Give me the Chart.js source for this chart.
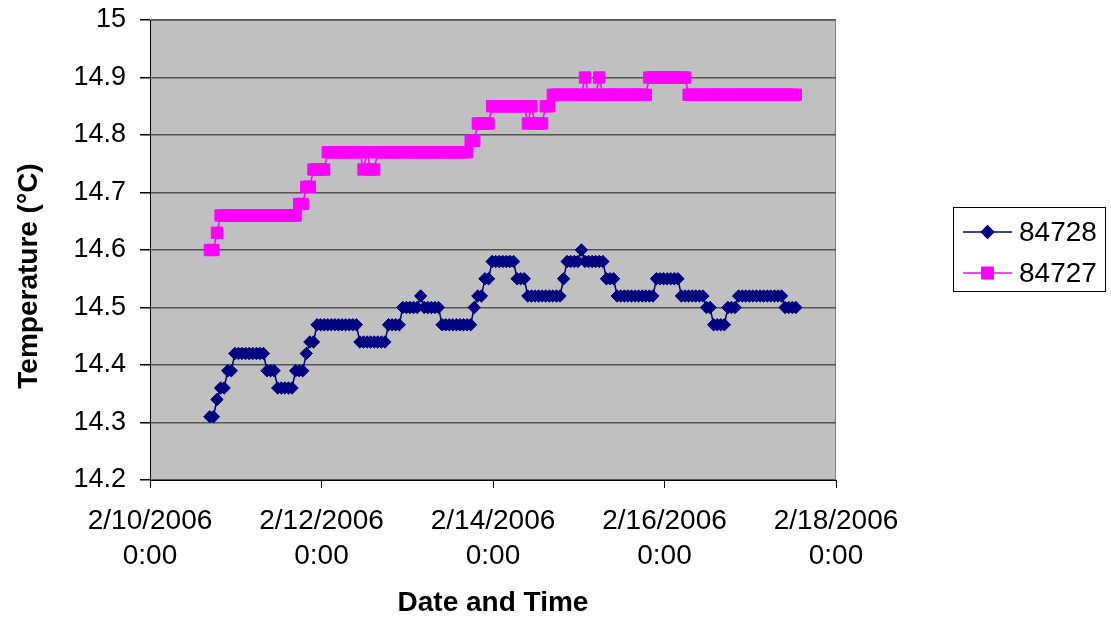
<!DOCTYPE html>
<html>
<head>
<meta charset="utf-8">
<title>Temperature 84728 / 84727</title>
<script src="https://cdn.jsdelivr.net/npm/chart.js@4.4.1/dist/chart.umd.min.js"></script>
<style>
  html, body { margin: 0; padding: 0; background: #fff; }
  #wrap { position: relative; width: 1111px; height: 624px; }
</style>
</head>
<body>
<div id="wrap"><canvas id="chart-temp"></canvas></div>
<script>
// Temperature chart
// -----------------------------------

// hourly readings from 2/10/2006 16:45; x is in days after 2/10/2006 0:00
var startDay = (16 + 45 / 60) / 24;
var stepDay = 1 / 24;

var seriesNames = ['84728', '84727'];

var temp84728 = [
    14.31, 14.31, 14.34, 14.36, 14.36, 14.39, 14.39, 14.42, 14.42, 14.42,
    14.42, 14.42, 14.42, 14.42, 14.42, 14.42, 14.39, 14.39, 14.39, 14.36,
    14.36, 14.36, 14.36, 14.36, 14.39, 14.39, 14.39, 14.42, 14.44, 14.44,
    14.47, 14.47, 14.47, 14.47, 14.47, 14.47, 14.47, 14.47, 14.47, 14.47,
    14.47, 14.47, 14.44, 14.44, 14.44, 14.44, 14.44, 14.44, 14.44, 14.44,
    14.47, 14.47, 14.47, 14.47, 14.50, 14.50, 14.50, 14.50, 14.50, 14.52,
    14.50, 14.50, 14.50, 14.50, 14.50, 14.47, 14.47, 14.47, 14.47, 14.47,
    14.47, 14.47, 14.47, 14.47, 14.50, 14.52, 14.52, 14.55, 14.55, 14.58,
    14.58, 14.58, 14.58, 14.58, 14.58, 14.58, 14.55, 14.55, 14.55, 14.52,
    14.52, 14.52, 14.52, 14.52, 14.52, 14.52, 14.52, 14.52, 14.52, 14.55,
    14.58, 14.58, 14.58, 14.58, 14.60, 14.58, 14.58, 14.58, 14.58, 14.58,
    14.58, 14.55, 14.55, 14.55, 14.52, 14.52, 14.52, 14.52, 14.52, 14.52,
    14.52, 14.52, 14.52, 14.52, 14.52, 14.55, 14.55, 14.55, 14.55, 14.55,
    14.55, 14.55, 14.52, 14.52, 14.52, 14.52, 14.52, 14.52, 14.52, 14.50,
    14.50, 14.47, 14.47, 14.47, 14.47, 14.50, 14.50, 14.50, 14.52, 14.52,
    14.52, 14.52, 14.52, 14.52, 14.52, 14.52, 14.52, 14.52, 14.52, 14.52,
    14.52, 14.50, 14.50, 14.50, 14.50
];

var temp84727 = [
    14.60, 14.60, 14.63, 14.66, 14.66, 14.66, 14.66, 14.66, 14.66, 14.66,
    14.66, 14.66, 14.66, 14.66, 14.66, 14.66, 14.66, 14.66, 14.66, 14.66,
    14.66, 14.66, 14.66, 14.66, 14.66, 14.68, 14.68, 14.71, 14.71, 14.74,
    14.74, 14.74, 14.74, 14.77, 14.77, 14.77, 14.77, 14.77, 14.77, 14.77,
    14.77, 14.77, 14.77, 14.74, 14.77, 14.74, 14.74, 14.77, 14.77, 14.77,
    14.77, 14.77, 14.77, 14.77, 14.77, 14.77, 14.77, 14.77, 14.77, 14.77,
    14.77, 14.77, 14.77, 14.77, 14.77, 14.77, 14.77, 14.77, 14.77, 14.77,
    14.77, 14.77, 14.77, 14.79, 14.79, 14.82, 14.82, 14.82, 14.82, 14.85,
    14.85, 14.85, 14.85, 14.85, 14.85, 14.85, 14.85, 14.85, 14.85, 14.82,
    14.85, 14.82, 14.82, 14.82, 14.85, 14.85, 14.87, 14.87, 14.87, 14.87,
    14.87, 14.87, 14.87, 14.87, 14.87, 14.90, 14.87, 14.87, 14.87, 14.90,
    14.87, 14.87, 14.87, 14.87, 14.87, 14.87, 14.87, 14.87, 14.87, 14.87,
    14.87, 14.87, 14.87, 14.90, 14.90, 14.90, 14.90, 14.90, 14.90, 14.90,
    14.90, 14.90, 14.90, 14.90, 14.87, 14.87, 14.87, 14.87, 14.87, 14.87,
    14.87, 14.87, 14.87, 14.87, 14.87, 14.87, 14.87, 14.87, 14.87, 14.87,
    14.87, 14.87, 14.87, 14.87, 14.87, 14.87, 14.87, 14.87, 14.87, 14.87,
    14.87, 14.87, 14.87, 14.87, 14.87
];

var xTickValues = [0, 2, 4, 6, 8];
var xTickDates = ['2/10/2006', '2/12/2006', '2/14/2006', '2/16/2006', '2/18/2006'];
var xTickTimes = ['0:00', '0:00', '0:00', '0:00', '0:00'];

var yTickValues = [14.2, 14.3, 14.4, 14.5, 14.6, 14.7, 14.8, 14.9, 15];
var yTickLabels = ['14.2', '14.3', '14.4', '14.5', '14.6', '14.7', '14.8', '14.9', '15'];

var yTitle = 'Temperature (°C)';
var xTitle = 'Date and Time';

var seriesColors = ['#000080', '#ff00ff'];
var seriesMarkers = ['rectRot', 'rect'];
var markerRadius = [6.2, 8];

var fontFamily = "'Liberation Sans', Arial, sans-serif";

function toPoints(values) {
    return values.map(function(v, i) {
        return { x: startDay + i * stepDay, y: v };
    });
}

// plot area fill + frame
var plotBackground = {
    id: 'plotBackground',
    beforeDraw: function(chart) {
        var a = chart.chartArea, ctx = chart.ctx;
        ctx.save();
        ctx.fillStyle = '#c0c0c0';
        ctx.fillRect(a.left, a.top, a.right - a.left, a.bottom - a.top);
        ctx.strokeStyle = '#808080';
        ctx.lineWidth = 1;
        ctx.strokeRect(a.left + 0.5, a.top + 0.5, a.right - a.left - 1, a.bottom - a.top - 1);
        ctx.restore();
    }
};

// rotated y title, placed a little below the plot centre like the original
var yAxisTitle = {
    id: 'yAxisTitle',
    afterDraw: function(chart) {
        var ctx = chart.ctx;
        ctx.save();
        ctx.translate(29, 276);
        ctx.rotate(-Math.PI / 2);
        ctx.fillStyle = '#000';
        ctx.font = 'bold 28px ' + fontFamily;
        ctx.textAlign = 'center';
        ctx.textBaseline = 'middle';
        ctx.fillText(yTitle, 0, 0);
        ctx.restore();
    }
};

// boxed legend to the right of the plot
var boxLegend = {
    id: 'boxLegend',
    afterDraw: function(chart) {
        var ctx = chart.ctx;
        var box = { x: 953.5, y: 207.5, w: 152, h: 84 };
        ctx.save();
        ctx.fillStyle = '#fff';
        ctx.fillRect(box.x, box.y, box.w, box.h);
        ctx.strokeStyle = '#000';
        ctx.lineWidth = 1;
        ctx.strokeRect(box.x, box.y, box.w, box.h);

        chart.data.datasets.forEach(function(ds, i) {
            var y = 232 + i * 41;
            ctx.strokeStyle = ds.borderColor;
            ctx.lineWidth = 1.5;
            ctx.beginPath();
            ctx.moveTo(963, y);
            ctx.lineTo(1012, y);
            ctx.stroke();
            Chart.helpers.drawPoint(ctx, {
                pointStyle: ds.pointStyle,
                radius: ds.pointRadius,
                rotation: 0,
                borderWidth: 1
            }, 987.5, y);
            ctx.fillStyle = ds.borderColor;
            ctx.fill();
            ctx.fillStyle = '#000';
            ctx.font = '28px ' + fontFamily;
            ctx.textAlign = 'left';
            ctx.textBaseline = 'middle';
            ctx.fillText(ds.label, 1019, y + 1);
        });
        ctx.restore();
    }
};

function makeDataset(i, values) {
    return {
        label: seriesNames[i],
        data: toPoints(values),
        borderColor: seriesColors[i],
        backgroundColor: seriesColors[i],
        pointBackgroundColor: seriesColors[i],
        pointBorderColor: seriesColors[i],
        pointBorderWidth: 1,
        pointStyle: seriesMarkers[i],
        pointRadius: markerRadius[i],
        borderWidth: 1.5,
        tension: 0,
        fill: false
    };
}

var ctx = document.getElementById('chart-temp').getContext('2d');
var tempChart = new Chart(ctx, {
    type: 'line',
    data: {
        datasets: [makeDataset(0, temp84728), makeDataset(1, temp84727)]
    },
    options: {
        responsive: true,
        maintainAspectRatio: false,
        animation: false,
        events: [],
        layout: {
            padding: { left: 0, right: 275, top: 20, bottom: 0 }
        },
        plugins: {
            legend: { display: false },
            tooltip: { enabled: false }
        },
        scales: {
            x: {
                type: 'linear',
                min: 0,
                max: 8,
                afterBuildTicks: function(scale) {
                    scale.ticks = xTickValues.map(function(v) { return { value: v }; });
                },
                afterFit: function(scale) {
                    scale.height = 144;
                    scale.paddingLeft = 0;
                    scale.paddingRight = 0;
                },
                ticks: {
                    autoSkip: false,
                    maxRotation: 0,
                    padding: 16,
                    color: '#000',
                    font: { family: fontFamily, size: 28, lineHeight: 1.25 },
                    callback: function(value) {
                        var i = xTickValues.indexOf(value);
                        return [xTickDates[i], xTickTimes[i]];
                    }
                },
                grid: {
                    drawOnChartArea: false,
                    drawTicks: true,
                    tickLength: 8,
                    tickColor: '#000'
                },
                border: { color: '#000', width: 1 },
                title: {
                    display: true,
                    text: xTitle,
                    color: '#000',
                    font: { family: fontFamily, size: 28, weight: 'bold' },
                    padding: { top: 0, bottom: 4 }
                }
            },
            y: {
                min: 14.2,
                max: 15,
                afterBuildTicks: function(scale) {
                    scale.ticks = yTickValues.map(function(v) { return { value: v }; });
                },
                afterFit: function(scale) {
                    scale.width = 150;
                    scale.paddingTop = 0;
                    scale.paddingBottom = 0;
                },
                ticks: {
                    padding: 14,
                    color: '#000',
                    font: { family: fontFamily, size: 27 },
                    callback: function(value) {
                        var i = yTickValues.indexOf(value);
                        return i < 0 ? '' : yTickLabels[i];
                    }
                },
                grid: {
                    color: '#555',
                    lineWidth: 1.5,
                    drawTicks: true,
                    tickLength: 10,
                    tickColor: '#000'
                },
                border: { color: '#000', width: 1 },
                title: { display: false }
            }
        }
    },
    plugins: [plotBackground, yAxisTitle, boxLegend]
});
</script>
</body>
</html>
